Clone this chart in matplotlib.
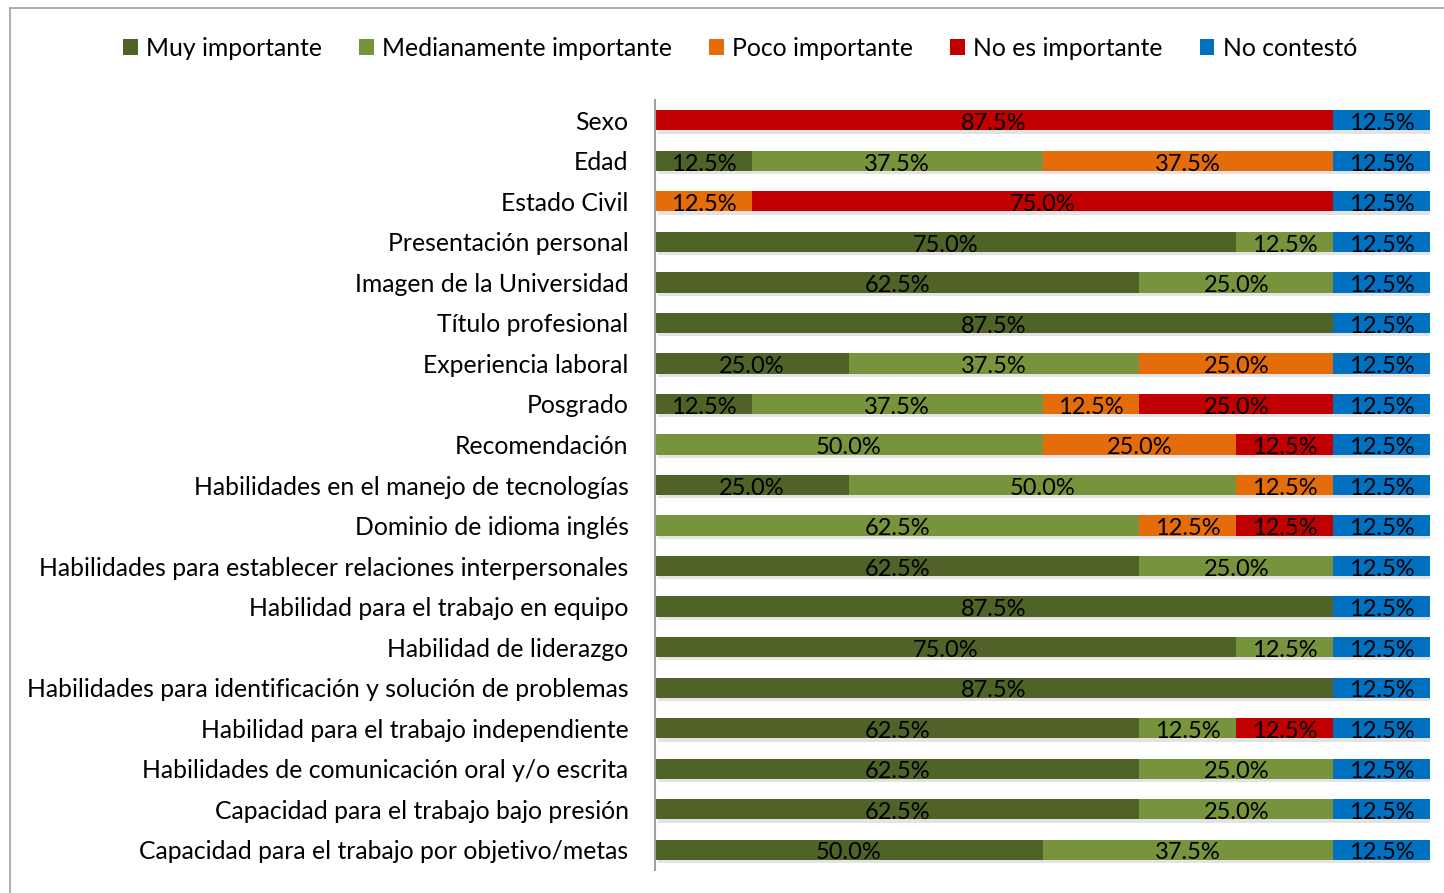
import matplotlib
matplotlib.use("Agg")
import numpy as np
import matplotlib.pyplot as plt
from matplotlib.lines import Line2D
from matplotlib.patches import Patch

plt.rcParams['font.family'] = ['Lato', 'DejaVu Sans']

categories = [
    "Sexo", "Edad", "Estado Civil", "Presentación personal",
    "Imagen de la Universidad", "Título profesional", "Experiencia laboral",
    "Posgrado", "Recomendación", "Habilidades en el manejo de tecnologías",
    "Dominio de idioma inglés",
    "Habilidades para establecer relaciones interpersonales",
    "Habilidad para el trabajo en equipo", "Habilidad de liderazgo",
    "Habilidades para identificación y solución de problemas",
    "Habilidad para el trabajo independiente",
    "Habilidades de comunicación oral y/o escrita",
    "Capacidad para el trabajo bajo presión",
    "Capacidad para el trabajo por objetivo/metas",
]
series_names = ["Muy importante", "Medianamente importante", "Poco importante",
                "No es importante", "No contestó"]
muy = [0, 12.5, 0, 75, 62.5, 87.5, 25, 12.5, 0, 25, 0, 62.5, 87.5, 75, 87.5, 62.5, 62.5, 62.5, 50]
mediana = [0, 37.5, 0, 12.5, 25, 0, 37.5, 37.5, 50, 50, 62.5, 25, 0, 12.5, 0, 12.5, 25, 25, 37.5]
poco = [0, 37.5, 12.5, 0, 0, 0, 25, 12.5, 25, 12.5, 12.5, 0, 0, 0, 0, 0, 0, 0, 0]
no_imp = [87.5, 0, 75, 0, 0, 0, 0, 25, 12.5, 0, 12.5, 0, 0, 0, 0, 12.5, 0, 0, 0]
no_cont = [12.5] * 19
colors = ["#4F6228", "#77933C", "#E46C0A", "#C00000", "#0070C0"]

series = [muy, mediana, poco, no_imp, no_cont]

fig = plt.figure(figsize=(14.44, 8.93), dpi=100)
ax = fig.add_axes([655 / 1444, 1 - 870 / 893, (1430 - 655) / 1444, (870 - 100) / 893])

y = np.arange(len(categories))
left = np.zeros(len(categories))
h = 0.5
for vals, c in zip(series, colors):
    vals = np.array(vals, dtype=float)
    # soft shadow
    ax.barh(y + 0.08, vals, left=left + 0.4, height=h, color="#b0b0b0", alpha=0.35,
            edgecolor="none", zorder=1)
    ax.barh(y, vals, left=left, height=h, color=c, edgecolor="none", zorder=2)
    for yi, (l, v) in enumerate(zip(left, vals)):
        if v > 0:
            ax.text(l + v / 2, yi + 0.08, f"{v:.1f}%", ha="center", va="center",
                    fontsize=17, color="black", zorder=3)
    left += vals

ax.set_xlim(0, 100)
ax.set_ylim(len(categories) - 0.5, -0.5)
ax.set_yticks(y)
ax.set_yticklabels(categories, fontsize=17.8)
ax.tick_params(axis="y", length=0, pad=19)
ax.set_xticks([])
for s in ["top", "right", "bottom"]:
    ax.spines[s].set_visible(False)
ax.spines["left"].set_color("#a0a0a0")
ax.spines["left"].set_linewidth(1.5)

handles = [Patch(facecolor=c, edgecolor="none") for c in colors]
fig.legend(handles, series_names, loc="center", bbox_to_anchor=(740 / 1444, 1 - 48 / 893),
           ncol=5, frameon=False, fontsize=17.8, handlelength=0.6, handleheight=0.6,
           handletextpad=0.35, columnspacing=1.48)

# chart border
fig.add_artist(Line2D([10 / 1444, 10 / 1444], [0, 1 - 8 / 893], transform=fig.transFigure,
                      color="#a0a0a0", lw=1.2))
fig.add_artist(Line2D([10 / 1444, 1], [1 - 8 / 893, 1 - 8 / 893], transform=fig.transFigure,
                      color="#a0a0a0", lw=1.2))

fig.savefig("out.png", dpi=100)
